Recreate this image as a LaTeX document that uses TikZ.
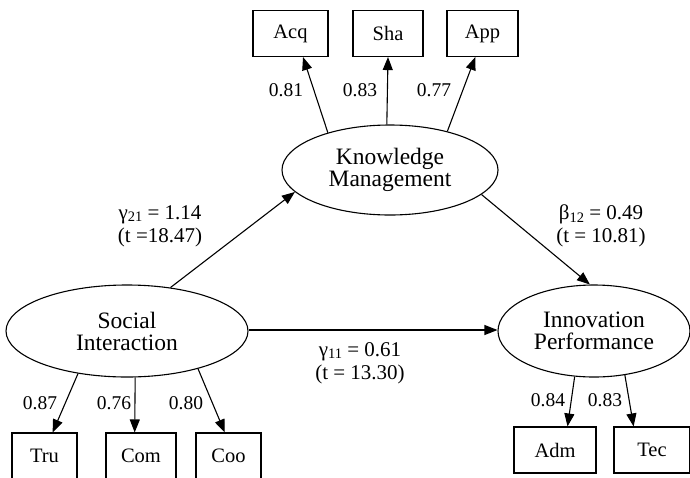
\documentclass[tikz,border=0pt]{standalone}
\usepackage{fontspec}
\setmainfont{Liberation Serif}
\usetikzlibrary{shapes.geometric,arrows.meta}
\newcommand{\sbs}[1]{\raisebox{-0.25ex}{\fontsize{14.5}{14.5}\selectfont #1}}
\tikzset{
  latent/.style={draw, ellipse, line width=1.1pt, inner sep=0pt, align=center,
    font=\fontsize{23.5}{22}\selectfont},
  obs/.style={draw, rectangle, line width=1.1pt, minimum width=#1, minimum height=46pt,
    inner sep=0pt, font=\fontsize{20.5}{20.5}\selectfont},
  obs/.default=70pt,
  arr/.style={line width=1.1pt, -{Triangle[length=13pt,width=10pt]}},
  lab/.style={font=\fontsize{19.5}{19.5}\selectfont, inner sep=0pt, align=center},
  plab/.style={font=\fontsize{21}{23}\selectfont, inner sep=0pt, align=center}
}
\begin{document}
\begin{tikzpicture}[x=1pt,y=-1pt]
\useasboundingbox (0,0) rectangle (690,477);
\clip (0,0) rectangle (690,477);
% latent variables
\node[latent, minimum width=216pt, minimum height=90pt] (KM) at (390,170) {Knowledge\\Management};
\node[latent, minimum width=242pt, minimum height=92pt] (SI) at (127,331) {Social\\Interaction};
\node[latent, minimum width=192pt, minimum height=92pt] (IP) at (594,331) {Innovation\\Performance};
% observed variables
\node[obs=75pt] (Acq) at (290.5,33.5) {Acq};
\node[obs=70pt] (Sha) at (388,33.5) {Sha};
\node[obs=71pt] (App) at (482.5,33.5) {App};
\node[obs=65pt] (Tru) at (44.5,456) {Tru};
\node[obs=70pt] (Com) at (141,456) {Com};
\node[obs=65pt] (Coo) at (228.5,456) {Coo};
\node[obs=82pt] (Adm) at (555,450) {Adm};
\node[obs=76pt] (Tec) at (652,450) {Tec};
% structural paths
\draw[arr] (SI.45.6) -- (KM.193);
\draw[arr] (KM.345) -- (IP.95);
\draw[arr] (SI.east |- 0,330) -- (IP.west |- 0,330);
% loadings
\draw[arr] (KM.149) -- (Acq.298);
\draw[arr] (KM.94) -- (Sha.south);
\draw[arr] (KM.34) -- (App.253);
\draw[arr] (SI.221) -- (Tru.71);
\draw[arr] (SI.280) -- (Com.105);
\draw[arr] (SI.332.5) -- (Coo.99);
\draw[arr] (IP.247.6) -- (Adm.62);
\draw[arr] (IP.305) -- (Tec.128);
% loading labels
\node[lab] (l1) at (286,90) {0.81};
\node[lab] (l2) at (360,90) {0.83};
\node[lab] (l3) at (434,90) {0.77};
\node[lab] (l4) at (40,403) {0.87};
\node[lab] (l5) at (114,403) {0.76};
\node[lab] (l6) at (186,403) {0.80};
\node[lab] (l7) at (548,400) {0.84};
\node[lab] (l8) at (605,400) {0.83};
% path labels
\node[plab] (p1) at (160,226) {γ\sbs{21} = 1.14\\(t =18.47)};
\node[plab] (p2) at (601,226) {β\sbs{12} = 0.49\\(t = 10.81)};
\node[plab] (p3) at (360,363) {γ\sbs{11} = 0.61\\(t = 13.30)};
\end{tikzpicture}
\end{document}
